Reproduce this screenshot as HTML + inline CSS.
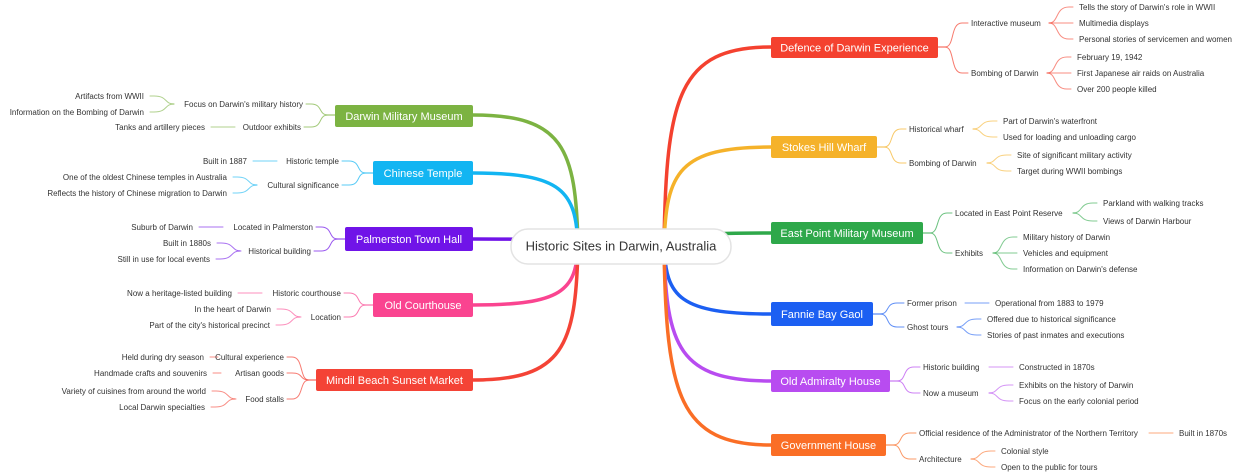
<!DOCTYPE html>
<html><head><meta charset="utf-8"><style>
html,body{margin:0;padding:0;background:#fff;width:1240px;height:472px;overflow:hidden}
svg{display:block}
text{font-family:"Liberation Sans",sans-serif}
.l{font-size:8px;fill:#333}
.m{font-size:11px;fill:#fff}
</style></head><body>
<svg id="s" width="1240" height="472" viewBox="0 0 1240 472">
<g id="lines" fill="none"></g>
<rect x="511" y="229" width="220" height="35" rx="17" fill="#fff" stroke="#e3e3e3" stroke-width="1.5"/>
<text x="621" y="250.5" text-anchor="middle" style="font-size:13px;fill:#333">Historic Sites in Darwin, Australia</text>

<rect x="771" y="37" width="167" height="21" rx="2" fill="#f4412f"/><text class="m" x="854.5" y="51.5" text-anchor="middle">Defence of Darwin Experience</text>
<rect x="771" y="136" width="106" height="22" rx="2" fill="#f5b22a"/><text class="m" x="824" y="151" text-anchor="middle">Stokes Hill Wharf</text>
<rect x="771" y="222" width="152" height="22" rx="2" fill="#2ea84a"/><text class="m" x="847" y="237" text-anchor="middle">East Point Military Museum</text>
<rect x="771" y="302" width="102" height="24" rx="2" fill="#1c5ff2"/><text class="m" x="822" y="318" text-anchor="middle">Fannie Bay Gaol</text>
<rect x="771" y="370" width="119" height="22" rx="2" fill="#b84cf0"/><text class="m" x="830.5" y="385" text-anchor="middle">Old Admiralty House</text>
<rect x="771" y="434" width="115" height="22" rx="2" fill="#fa6e26"/><text class="m" x="828.5" y="449" text-anchor="middle">Government House</text>

<rect x="335" y="105" width="138" height="22" rx="2" fill="#7cb342"/><text class="m" x="404" y="120" text-anchor="middle">Darwin Military Museum</text>
<rect x="373" y="161" width="100" height="24" rx="2" fill="#12b5f2"/><text class="m" x="423" y="177" text-anchor="middle">Chinese Temple</text>
<rect x="345" y="227" width="128" height="24" rx="2" fill="#7014e8"/><text class="m" x="409" y="243" text-anchor="middle">Palmerston Town Hall</text>
<rect x="373" y="293" width="100" height="24" rx="2" fill="#fa4490"/><text class="m" x="423" y="309" text-anchor="middle">Old Courthouse</text>
<rect x="316" y="369" width="157" height="22" rx="2" fill="#f44336"/><text class="m" x="394.5" y="384" text-anchor="middle">Mindil Beach Sunset Market</text>

<g class="l">
<text x="971" y="26">Interactive museum</text><text x="971" y="76">Bombing of Darwin</text>
<text x="1079" y="10">Tells the story of Darwin's role in WWII</text><text x="1079" y="26">Multimedia displays</text><text x="1079" y="42">Personal stories of servicemen and women</text>
<text x="1077" y="60">February 19, 1942</text><text x="1077" y="76">First Japanese air raids on Australia</text><text x="1077" y="92">Over 200 people killed</text>
<text x="909" y="132">Historical wharf</text><text x="909" y="166">Bombing of Darwin</text>
<text x="1003" y="124">Part of Darwin's waterfront</text><text x="1003" y="140">Used for loading and unloading cargo</text>
<text x="1017" y="158">Site of significant military activity</text><text x="1017" y="174">Target during WWII bombings</text>
<text x="955" y="216">Located in East Point Reserve</text><text x="955" y="256">Exhibits</text>
<text x="1103" y="206">Parkland with walking tracks</text><text x="1103" y="224">Views of Darwin Harbour</text>
<text x="1023" y="240">Military history of Darwin</text><text x="1023" y="256">Vehicles and equipment</text><text x="1023" y="272">Information on Darwin's defense</text>
<text x="907" y="306">Former prison</text><text x="907" y="330">Ghost tours</text>
<text x="995" y="306">Operational from 1883 to 1979</text><text x="987" y="322">Offered due to historical significance</text><text x="987" y="338">Stories of past inmates and executions</text>
<text x="923" y="370">Historic building</text><text x="923" y="396">Now a museum</text>
<text x="1019" y="370">Constructed in 1870s</text><text x="1019" y="388">Exhibits on the history of Darwin</text><text x="1019" y="404">Focus on the early colonial period</text>
<text x="919" y="436">Official residence of the Administrator of the Northern Territory</text><text x="919" y="462">Architecture</text>
<text x="1179" y="436">Built in 1870s</text><text x="1001" y="454">Colonial style</text><text x="1001" y="470">Open to the public for tours</text>
</g>
<g class="l" text-anchor="end">
<text x="303" y="107">Focus on Darwin's military history</text><text x="301" y="130">Outdoor exhibits</text>
<text x="144" y="99">Artifacts from WWII</text><text x="144" y="115">Information on the Bombing of Darwin</text><text x="205" y="130">Tanks and artillery pieces</text>
<text x="339" y="164">Historic temple</text><text x="339" y="188">Cultural significance</text>
<text x="247" y="164">Built in 1887</text><text x="227" y="180">One of the oldest Chinese temples in Australia</text><text x="227" y="196">Reflects the history of Chinese migration to Darwin</text>
<text x="313" y="230">Located in Palmerston</text><text x="311" y="254">Historical building</text>
<text x="193" y="230">Suburb of Darwin</text><text x="211" y="246">Built in 1880s</text><text x="210" y="262">Still in use for local events</text>
<text x="341" y="296">Historic courthouse</text><text x="341" y="320">Location</text>
<text x="232" y="296">Now a heritage-listed building</text><text x="271" y="312">In the heart of Darwin</text><text x="270" y="328">Part of the city's historical precinct</text>
<text x="284" y="360">Cultural experience</text><text x="284" y="376">Artisan goods</text><text x="284" y="402">Food stalls</text>
<text x="204" y="360">Held during dry season</text><text x="207" y="376">Handmade crafts and souvenirs</text><text x="206" y="394">Variety of cuisines from around the world</text><text x="205" y="410">Local Darwin specialties</text>
</g>
</svg>
<script>
var g=document.getElementById('lines'),NS='http://www.w3.org/2000/svg';
function p(d,c,w,o){var e=document.createElementNS(NS,'path');e.setAttribute('d',d);e.setAttribute('stroke',c);e.setAttribute('stroke-width',w);if(o)e.setAttribute('opacity',o);e.setAttribute('stroke-linecap','round');g.appendChild(e);}
var R=[
[938,47,'#f4412f',[[971,23,[[1079,7],[1079,23],[1079,39]]],[971,73,[[1077,57],[1077,73],[1077,89]]]]],
[877,147,'#f5b22a',[[909,129,[[1003,121],[1003,137]]],[909,163,[[1017,155],[1017,171]]]]],
[923,233,'#2ea84a',[[955,213,[[1103,203],[1103,221]]],[955,253,[[1023,237],[1023,253],[1023,269]]]]],
[873,314,'#1c5ff2',[[907,303,[[995,303]]],[907,327,[[987,319],[987,335]]]]],
[890,381,'#b84cf0',[[923,367,[[1019,367]]],[923,393,[[1019,385],[1019,401]]]]],
[886,445,'#fa6e26',[[919,433,[[1179,433]]],[919,459,[[1001,451],[1001,467]]]]]];
var L=[
[335,115,'#7cb342',[[303,104,[[144,96],[144,112]]],[301,127,[[205,127]]]]],
[373,173,'#12b5f2',[[339,161,[[247,161]]],[339,185,[[227,177],[227,193]]]]],
[345,239,'#7014e8',[[313,227,[[193,227]]],[311,251,[[211,243],[210,259]]]]],
[373,305,'#fa4490',[[341,293,[[232,293]]],[341,317,[[271,309],[270,325]]]]],
[316,380,'#f44336',[[284,357,[[204,357,8]]],[284,373,[[207,373,8]]],[284,399,[[206,391],[205,407]]]]]];
function draw(list,s){list.forEach(function(n){
 var ex=n[0],cy=n[1],c=n[2];
 var x0=s>0?664:578;
 var nx=s>0?771:473;
 p('M'+x0+' 246 C'+(x0+s*2)+' '+(cy+(246-cy)*0.25)+' '+(x0+s*15)+' '+cy+' '+nx+' '+cy,c,3.5);
 n[3].forEach(function(sb){
  var sx=sb[0],sy=sb[1];
  var a=ex+s*7;
  p('M'+ex+' '+cy+' L'+a+' '+cy+' C'+(a+s*10)+' '+cy+' '+(a+s*5)+' '+sy+' '+(a+s*17)+' '+sy+' L'+(sx-s*3)+' '+sy,c,1,0.7);
  var lv=sb[2];
  lv.forEach(function(l){
   var lx=l[0],ly=l[1],len=l[2]||24;
   if(lv.length==1){p('M'+(lx-s*(6+len))+' '+ly+' L'+(lx-s*6)+' '+ly,c,1,0.6);}
   else{var b=lx-s*30;p('M'+b+' '+sy+' C'+(b+s*10)+' '+sy+' '+(b+s*6)+' '+ly+' '+(b+s*20)+' '+ly+' L'+(lx-s*6)+' '+ly,c,1,0.6);}
  });
 });
});}
draw(R,1);draw(L,-1);
</script>
</body></html>
